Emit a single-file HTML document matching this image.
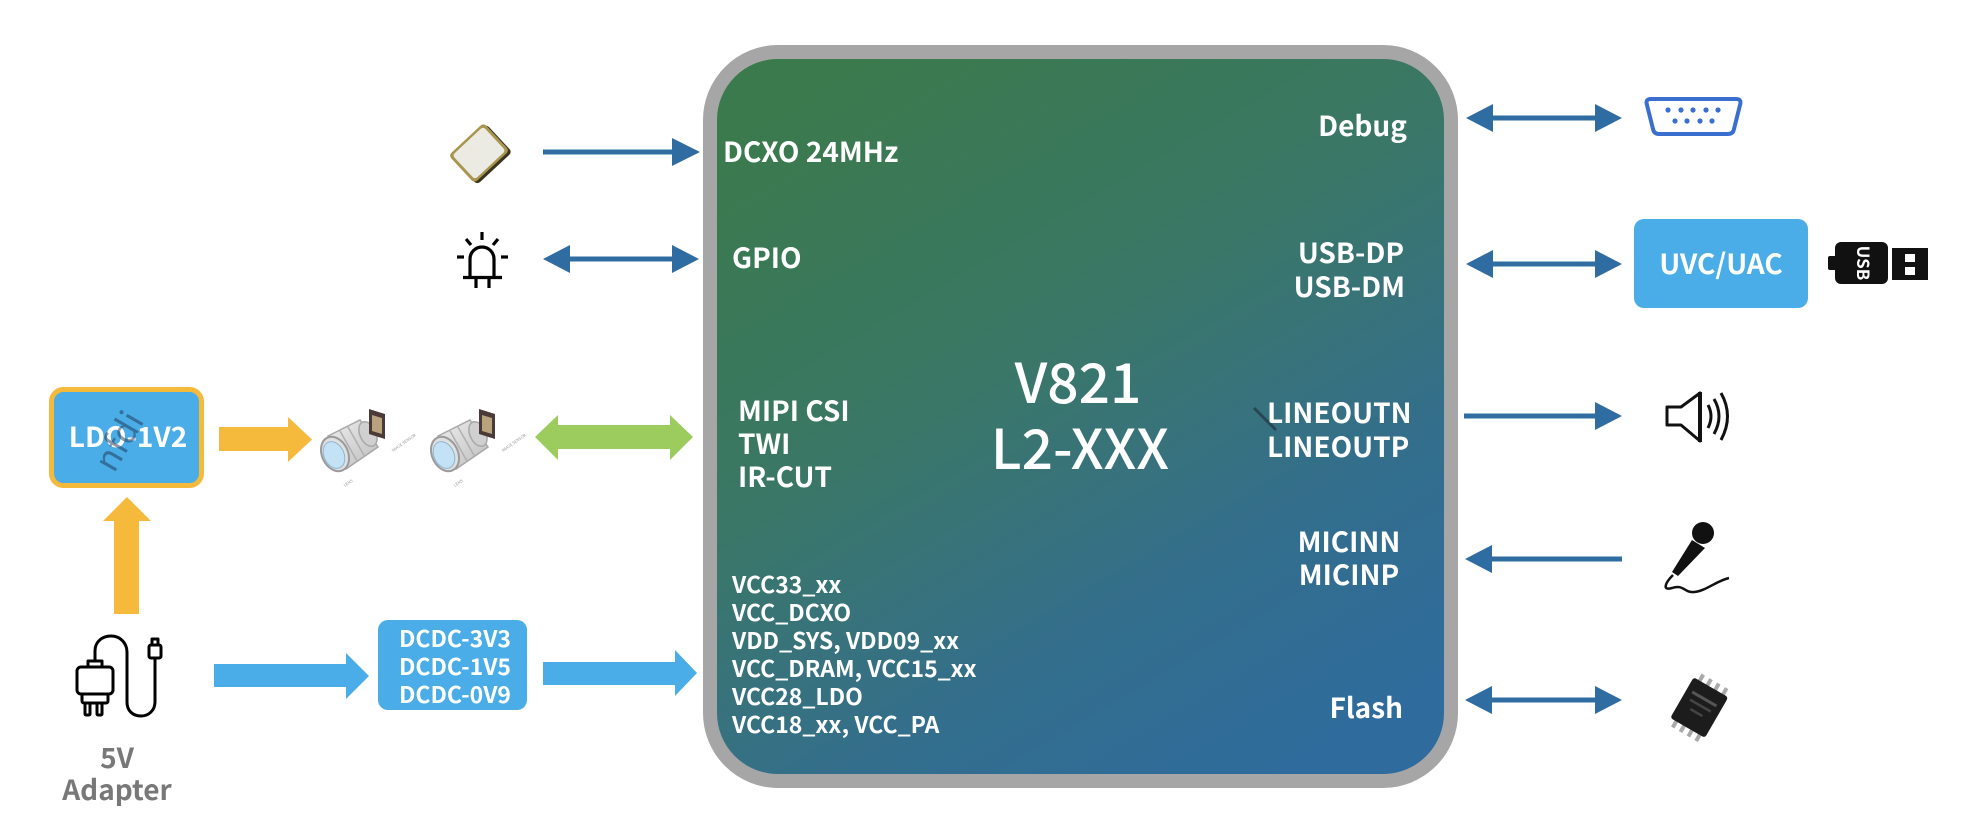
<!DOCTYPE html>
<html><head><meta charset="utf-8"><style>
html,body{margin:0;padding:0;background:#fff;}
svg{display:block;}
text{font-family:"Noto Sans CJK SC","Liberation Sans",sans-serif;}
</style></head><body>
<svg width="1978" height="830" viewBox="0 0 1978 830" xmlns="http://www.w3.org/2000/svg">
<defs>
<linearGradient id="chipg" x1="0.2" y1="0" x2="0.8" y2="1">
<stop offset="0" stop-color="#3b7a4c"/>
<stop offset="0.4" stop-color="#3a7766"/>
<stop offset="0.56" stop-color="#38737a"/>
<stop offset="0.72" stop-color="#336e8c"/>
<stop offset="1" stop-color="#2f6b9d"/>
</linearGradient>
<linearGradient id="barrel" x1="0" y1="0" x2="1" y2="1">
<stop offset="0" stop-color="#eeeeee"/><stop offset="1" stop-color="#bdbdbd"/>
</linearGradient>
<g id="cam">
<polygon points="328,436 360,420 378,447 346,469" fill="url(#barrel)" stroke="#a8a8a8" stroke-width="1.5"/>
<line x1="340" y1="431" x2="357" y2="461" stroke="#b0b0b0" stroke-width="1.5"/>
<line x1="348" y1="427" x2="365" y2="457" stroke="#b0b0b0" stroke-width="1.5"/>
<ellipse cx="368" cy="434" rx="8" ry="13" transform="rotate(-25 368 434)" fill="#d0d0d0" stroke="#a8a8a8" stroke-width="1.5"/>
<ellipse cx="335" cy="454" rx="13" ry="18" transform="rotate(-25 335 454)" fill="#e0e0e0" stroke="#9a9a9a" stroke-width="2"/>
<ellipse cx="334" cy="455" rx="10" ry="14" transform="rotate(-25 334 455)" fill="#c4e2f6" stroke="#8fb5cf" stroke-width="1"/>
<polygon points="369,409 385,414 385,439 369,434" fill="#4a3a38"/>
<polygon points="372,415 382,418 382,434 372,431" fill="#b9a27e"/>
<text x="0" y="0" font-size="4" fill="#999" transform="translate(345,487) rotate(-35)">LENS</text>
<text x="0" y="0" font-size="4" fill="#999" transform="translate(393,452) rotate(-35)">IMAGE SENSOR</text>
</g>
</defs>

<!-- Chip -->
<rect x="710" y="52" width="741" height="729" rx="68" ry="68" fill="url(#chipg)" stroke="#a6a6a6" stroke-width="14"/>

<!-- Chip labels -->
<g fill="#fff" font-weight="bold" font-size="28">
<text x="723" y="162">DCXO 24MHz</text>
<text x="732" y="268">GPIO</text>
<text x="738" y="421">MIPI CSI</text>
<text x="738" y="454">TWI</text>
<text x="738" y="487">IR-CUT</text>
<text x="1407" y="136" text-anchor="end">Debug</text>
<text x="1404" y="263" text-anchor="end">USB-DP</text>
<text x="1405" y="297" text-anchor="end">USB-DM</text>
<text x="1267" y="423">LINEOUTN</text>
<text x="1267" y="457">LINEOUTP</text>
<text x="1349" y="552" text-anchor="middle">MICINN</text>
<text x="1349" y="585" text-anchor="middle">MICINP</text>
<text x="1403" y="718" text-anchor="end">Flash</text>
</g>
<g fill="#fff" font-weight="bold" font-size="23">
<text x="732" y="593">VCC33_xx</text>
<text x="732" y="621">VCC_DCXO</text>
<text x="732" y="649">VDD_SYS, VDD09_xx</text>
<text x="732" y="677">VCC_DRAM, VCC15_xx</text>
<text x="732" y="705">VCC28_LDO</text>
<text x="732" y="733">VCC18_xx, VCC_PA</text>
</g>
<g fill="#fff" font-size="55" font-weight="500" text-anchor="middle">
<text x="1078" y="403">V821</text>
<text x="1080" y="469">L2-XXX</text>
</g>
<line x1="1254" y1="408" x2="1276" y2="430" stroke="#1f2a35" stroke-opacity="0.6" stroke-width="3"/>

<!-- Dark blue connectors -->
<g fill="#2f6ca1" stroke="none">
<rect x="543" y="149.5" width="131" height="5"/>
<polygon points="672,138 700,152 672,166"/>
<rect x="566" y="256.5" width="110" height="5"/>
<polygon points="543,259 570,245 570,273"/>
<polygon points="672,245 699,259 672,273"/>
<rect x="1490" y="115.5" width="110" height="5"/>
<polygon points="1466,118 1493,104 1493,132"/>
<polygon points="1595,104 1622,118 1595,132"/>
<rect x="1490" y="261.5" width="110" height="5"/>
<polygon points="1466,264 1493,250 1493,278"/>
<polygon points="1595,250 1622,264 1595,278"/>
<rect x="1464" y="413.5" width="134" height="5"/>
<polygon points="1595,402 1622,416 1595,430"/>
<rect x="1488" y="556.5" width="134" height="5"/>
<polygon points="1465,559 1492,545 1492,573"/>
<rect x="1490" y="697.5" width="110" height="5"/>
<polygon points="1465,700 1492,686 1492,714"/>
<polygon points="1595,686 1622,700 1595,714"/>
</g>

<!-- Crystal -->
<g transform="translate(479,153) rotate(-43)">
<rect x="-23" y="-16" width="48" height="38" rx="4" fill="#3a3320"/>
<rect x="-24" y="-19" width="48" height="38" rx="4" fill="#a8964e"/>
<rect x="-21" y="-16.5" width="42" height="33" rx="3" fill="#ecebe3"/>
</g>

<!-- LED -->
<g stroke="#000" stroke-width="3.2" fill="none" stroke-linecap="butt">
<path d="M470,277 V259 A12,12 0 0 1 494,259 V277"/>
<line x1="463" y1="277.5" x2="502" y2="277.5"/>
<line x1="476" y1="277" x2="476" y2="288"/>
<line x1="489" y1="277" x2="489" y2="288"/>
<line x1="482" y1="232" x2="482" y2="240"/>
<line x1="466" y1="239" x2="471" y2="245"/>
<line x1="498" y1="239" x2="493" y2="245"/>
<line x1="457" y1="257" x2="464" y2="257"/>
<line x1="501" y1="257" x2="508" y2="257"/>
</g>

<!-- LDO box -->
<rect x="51.5" y="389.5" width="150" height="96" rx="12" fill="#4aade8" stroke="#f5b93c" stroke-width="5"/>
<text x="128" y="447" fill="#fff" font-size="28" font-weight="bold" text-anchor="middle">LDO-1V2</text>
<text x="0" y="0" fill="#1e3350" fill-opacity="0.5" font-size="34" transform="translate(114,474) rotate(-60)">nfdi</text>

<!-- Yellow arrows -->
<polygon points="219,427 288,427 288,417 312,439.5 288,462 288,451 219,451" fill="#f5b93c"/>
<polygon points="114,614 114,521 103,521 127,497 151,521 139,521 139,614" fill="#f5b93c"/>

<!-- Cameras -->
<use href="#cam"/>
<use href="#cam" transform="translate(110,0)"/>

<!-- Green double arrow -->
<polygon points="535,437 558,415 558,425 670,425 670,415 693,437 670,460 670,449 558,449 558,460" fill="#9ccb5e"/>

<!-- Adapter -->
<g stroke="#000" stroke-width="3" fill="none" stroke-linejoin="round">
<rect x="88" y="661" width="14" height="6"/>
<rect x="77" y="667" width="36" height="27" rx="4"/>
<rect x="82" y="694" width="26" height="9" rx="2"/>
<rect x="85" y="703" width="5" height="12" rx="1"/>
<rect x="97" y="703" width="5" height="12" rx="1"/>
<path d="M95,661 V651 C95,641 103,636 111,636 C121,636 127,644 127,652 V702 C127,711 133,716 141,716 C149,716 155,710 155,702 V658"/>
<rect x="149" y="645" width="12" height="13" rx="2"/>
<rect x="152" y="639" width="6" height="6"/>
</g>
<g fill="#787878" font-size="28" font-weight="bold" text-anchor="middle">
<text x="117" y="768">5V</text>
<text x="117" y="800">Adapter</text>
</g>

<!-- Light blue arrows and DCDC -->
<polygon points="214,664 346,664 346,653 369,676 346,699 346,687 214,687" fill="#4aade8"/>
<rect x="378" y="620" width="149" height="90" rx="10" fill="#4aade8"/>
<g fill="#fff" font-size="23" font-weight="bold" text-anchor="middle">
<text x="455" y="647">DCDC-3V3</text>
<text x="455" y="675">DCDC-1V5</text>
<text x="455" y="703">DCDC-0V9</text>
</g>
<polygon points="543,662 675,662 675,650 697,673 675,696 675,685 543,685" fill="#4aade8"/>

<!-- Serial DB9 -->
<g fill="#3a6fd0">
<path d="M1651,99 H1736 Q1742,99 1740,105 L1734,129 Q1733,134 1728,134 H1659 Q1654,134 1653,129 L1647,105 Q1645,99 1651,99 Z" fill="none" stroke="#3a6fd0" stroke-width="4"/>
<circle cx="1668" cy="110" r="2.6"/><circle cx="1681" cy="110" r="2.6"/><circle cx="1693" cy="110" r="2.6"/><circle cx="1706" cy="110" r="2.6"/><circle cx="1718" cy="110" r="2.6"/>
<circle cx="1675" cy="121" r="2.6"/><circle cx="1687" cy="121" r="2.6"/><circle cx="1700" cy="121" r="2.6"/><circle cx="1712" cy="121" r="2.6"/>
</g>

<!-- UVC/UAC -->
<rect x="1634" y="219" width="174" height="89" rx="10" fill="#4aade8"/>
<text x="1721" y="274" fill="#fff" font-size="28" font-weight="bold" text-anchor="middle">UVC/UAC</text>

<!-- USB stick -->
<g fill="#111">
<rect x="1828" y="256" width="9" height="14" rx="2"/>
<rect x="1835" y="242" width="53" height="42" rx="6"/>
<rect x="1892" y="248" width="36" height="32"/>
</g>
<rect x="1905" y="254" width="10" height="8" fill="#fff"/>
<rect x="1905" y="267" width="10" height="8" fill="#fff"/>
<text x="0" y="0" fill="#fff" font-size="17" font-weight="bold" text-anchor="middle" transform="translate(1857,263) rotate(90)">USB</text>

<!-- Speaker -->
<g stroke="#111" stroke-width="3" fill="none" stroke-linejoin="round">
<path d="M1667,407 H1681 L1700,393 V441 L1681,425 H1667 Z"/>
<line x1="1700" y1="392" x2="1700" y2="442" stroke-width="4"/>
<path d="M1708,405 Q1714,416 1708,428"/>
<path d="M1714,399 Q1724,416 1714,434"/>
<path d="M1721,393 Q1734,416 1721,440"/>
</g>

<!-- Microphone -->
<g>
<circle cx="1703" cy="533" r="11" fill="#111"/>
<polygon points="1692,540 1705,548 1678,576 1672,572" fill="#111"/>
<path d="M1673,575 C1665,583 1662,591 1672,588 C1684,584 1684,593 1694,592 C1706,591 1716,581 1729,578" fill="none" stroke="#111" stroke-width="2.5"/>
</g>

<!-- Flash chip -->
<g transform="translate(1699,708) rotate(30)">
<g fill="#a9a9a9">
<rect x="-15" y="-31" width="4" height="8"/><rect x="-6" y="-31" width="4" height="8"/><rect x="3" y="-31" width="4" height="8"/><rect x="12" y="-31" width="4" height="8"/>
<rect x="-15" y="22" width="4" height="8"/><rect x="-6" y="22" width="4" height="8"/><rect x="3" y="22" width="4" height="8"/><rect x="12" y="22" width="4" height="8"/>
</g>
<rect x="-20" y="-24" width="40" height="47" rx="3" fill="#1c1c1c"/>
<rect x="-14" y="-12" width="28" height="3" fill="#555"/>
<rect x="-12" y="-4" width="24" height="2.5" fill="#444"/>
<rect x="-7" y="4" width="14" height="2.5" fill="#444"/>
</g>
</svg>
</body></html>
